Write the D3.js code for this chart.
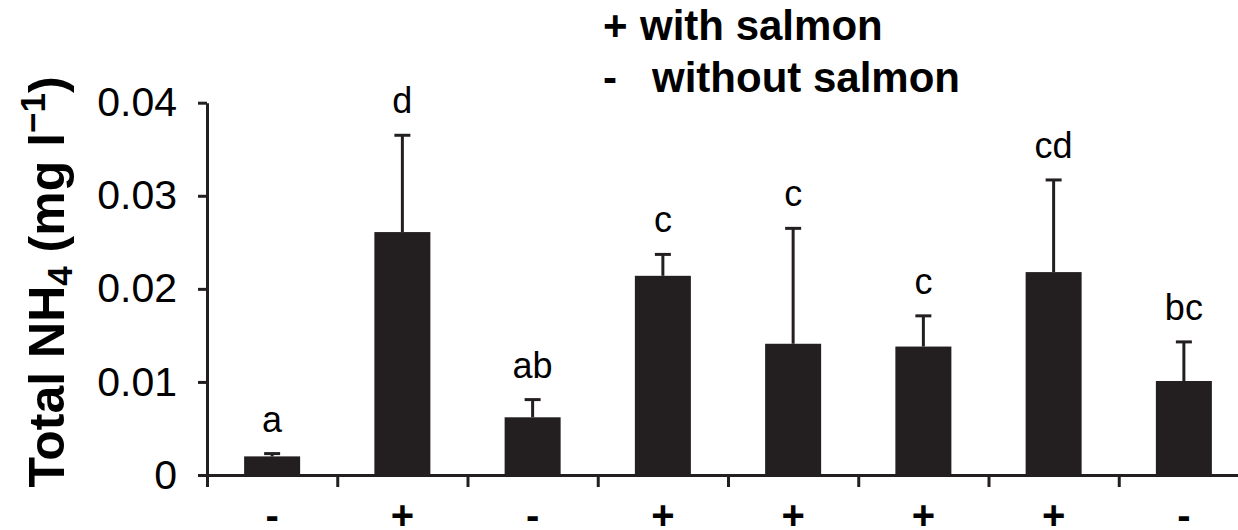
<!DOCTYPE html>
<html>
<head>
<meta charset="utf-8">
<script src="https://cdn.jsdelivr.net/npm/d3@7"></script>
<style>
  html, body { margin: 0; padding: 0; background: #fff; }
  svg { display: block; font-family: "Liberation Sans", Arial, sans-serif; }
</style>
</head>
<body>
<svg id="chart" width="1238" height="530"></svg>
<script>
// Treatment groups: "+" with salmon, "-" without salmon
const groups   = ["-", "+", "-", "+", "+", "+", "+", "-"];
const means    = [0.0020, 0.0261, 0.0062, 0.0214, 0.0141, 0.0138, 0.0218, 0.0101];
const errors   = [0.0003, 0.0104, 0.0019, 0.0023, 0.0124, 0.0033, 0.0099, 0.0042];
const letters  = ["a", "d", "ab", "c", "c", "c", "cd", "bc"];
const yTicks   = [0, 0.01, 0.02, 0.03, 0.04];
const legendSymbols = ["+", "-"];
const legendLabels  = ["with salmon", "without salmon"];

const ink = "#231f20";
const svg = d3.select("#chart");

const plotLeft = 207, plotRight = 1249, plotTop = 102.7, plotBottom = 475;

const y = d3.scaleLinear().domain([0, 0.04]).range([plotBottom, plotTop]);
const x = d3.scaleBand().domain(d3.range(groups.length))
  .range([plotLeft, plotRight]).paddingInner(0.57).paddingOuter(0.285);
// boundaries between groups, used for the x-axis tick marks
const xb = d3.scaleLinear().domain([0, groups.length]).range([plotLeft, plotRight]);

// x axis: line with ticks between groups
const gx = svg.append("g").attr("transform", `translate(0,${plotBottom})`)
  .call(d3.axisBottom(xb).tickValues(d3.range(groups.length + 1))
    .tickSize(12).tickSizeOuter(0).tickFormat(""));
gx.selectAll("path,line").attr("stroke", ink).attr("stroke-width", 3);

// y axis
const gy = svg.append("g").attr("transform", `translate(${plotLeft},0)`)
  .call(d3.axisLeft(y).tickValues(yTicks).tickSize(9).tickSizeOuter(0)
    .tickPadding(21)
    .tickFormat(d => d === 0 ? "0" : d3.format(".2f")(d)));
gy.selectAll("path,line").attr("stroke", ink).attr("stroke-width", 3);
gy.selectAll("text").attr("font-size", 41).attr("fill", "#000")
  .attr("font-family", "'Liberation Sans', Arial, sans-serif");

// bars
svg.append("g").selectAll("rect").data(means).join("rect")
  .attr("x", (d, i) => x(i))
  .attr("width", x.bandwidth())
  .attr("y", d => y(d))
  .attr("height", d => y(0) - y(d))
  .attr("fill", ink);

// error bars (upper only)
const eg = svg.append("g").attr("stroke", ink).attr("stroke-width", 3);
means.forEach((m, i) => {
  const cx = x(i) + x.bandwidth() / 2;
  const yt = y(m + errors[i]);
  eg.append("line").attr("x1", cx).attr("x2", cx).attr("y1", y(m)).attr("y2", yt);
  eg.append("line").attr("x1", cx - 8).attr("x2", cx + 8).attr("y1", yt).attr("y2", yt);
});

// significance letters
svg.append("g").selectAll("text").data(letters).join("text")
  .attr("x", (d, i) => x(i) + x.bandwidth() / 2)
  .attr("y", (d, i) => y(means[i] + errors[i]) - 22)
  .attr("text-anchor", "middle")
  .attr("font-size", 36)
  .attr("fill", "#000")
  .text(d => d);

// group symbols under the axis
svg.append("g").selectAll("text").data(groups).join("text")
  .attr("x", (d, i) => x(i) + x.bandwidth() / 2)
  .attr("y", 529)
  .attr("text-anchor", "middle")
  .attr("font-size", 40)
  .attr("font-weight", "bold")
  .attr("fill", "#000")
  .text(d => d);

// y-axis title
const title = svg.append("text")
  .attr("transform", "translate(64,282) rotate(-90)")
  .attr("text-anchor", "middle")
  .attr("font-size", 50)
  .attr("font-weight", "bold")
  .attr("fill", "#000");
title.append("tspan").text("Total NH");
title.append("tspan").attr("font-size", 35).attr("dy", 8).text("4");
title.append("tspan").attr("dy", -8).text(" (mg l");
title.append("tspan").attr("font-size", 35).attr("dy", -19).text("\u22121");
title.append("tspan").attr("dy", 19).text(")");

// legend
const lg = svg.append("g").attr("font-size", 42).attr("font-weight", "bold").attr("fill", "#000");
lg.selectAll("text.sym").data(legendSymbols).join("text")
  .attr("class", "sym")
  .attr("x", 603)
  .attr("y", (d, i) => 40 + i * 52)
  .text(d => d);
lg.selectAll("text.lab").data(legendLabels).join("text")
  .attr("class", "lab")
  .attr("x", (d, i) => i === 0 ? 640 : 652)
  .attr("y", (d, i) => 40 + i * 52)
  .text(d => d);
</script>
</body>
</html>
